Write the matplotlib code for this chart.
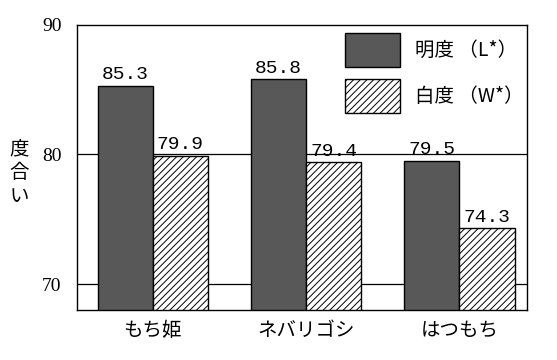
import matplotlib
matplotlib.use('Agg')
import matplotlib.pyplot as plt
import numpy as np

plt.rcParams['font.family'] = ['Noto Sans CJK JP', 'DejaVu Sans']

# データ
categories = ['もち姫', 'ネバリゴシ', 'はつもち']
lightness = [85.3, 85.8, 79.5]   # 明度 (L*)
whiteness = [79.9, 79.4, 74.3]   # 白度 (W*)
series_names = ['明度 （L*）', '白度 （W*）']
yticks = [70, 80, 90]

fig = plt.figure(figsize=(5.57, 3.6), dpi=100)
ax = fig.add_axes([0.138, 0.139, 0.808, 0.792])

x = np.arange(len(categories))
w = 0.36
ax.set_ylim(68, 90)
ax.set_xlim(-0.495, 2.44)

# 横線
for yv in [70, 80]:
    ax.axhline(yv, color='black', lw=0.9, zorder=1)

plt.rcParams['hatch.linewidth'] = 0.7
b1 = ax.bar(x - w / 2, lightness, w, bottom=0, color='#585858', edgecolor='black',
            lw=1.0, label=series_names[0], zorder=2)
b2 = ax.bar(x + w / 2, whiteness, w, bottom=0, color='white', edgecolor='black',
            hatch='/////', lw=1.0, label=series_names[1], zorder=2)

num_font = ['Liberation Mono', 'DejaVu Sans']
for xi, v in zip(x - w / 2, lightness):
    ax.text(xi, v + 0.2, f'{v:.1f}', ha='center', va='bottom', fontsize=14, family=num_font)
for xi, v in zip(x + w / 2, whiteness):
    ax.text(xi, v + 0.2, f'{v:.1f}', ha='center', va='bottom', fontsize=14, family=num_font)

ax.set_yticks(yticks)
ax.set_yticklabels([str(t) for t in yticks], fontsize=14, family=['Liberation Serif'])
ax.set_xticks(x)
ax.set_xticklabels(categories, fontsize=14)
ax.tick_params(axis='x', length=0, pad=7)
ax.tick_params(axis='y', length=0, pad=11)

for s in ax.spines.values():
    s.set_linewidth(1.0)

fig.text(0.034, 0.52, '度\n合\nい', ha='center', va='center', fontsize=14, linespacing=1.15)

ax.legend(loc='upper right', bbox_to_anchor=(1.018, 1.014), frameon=False, fontsize=14,
          handlelength=2.85, handleheight=2.35, labelspacing=0.6, handletextpad=0.75,
          borderaxespad=0.2)

plt.savefig('out.png', dpi=100)
plt.close()
